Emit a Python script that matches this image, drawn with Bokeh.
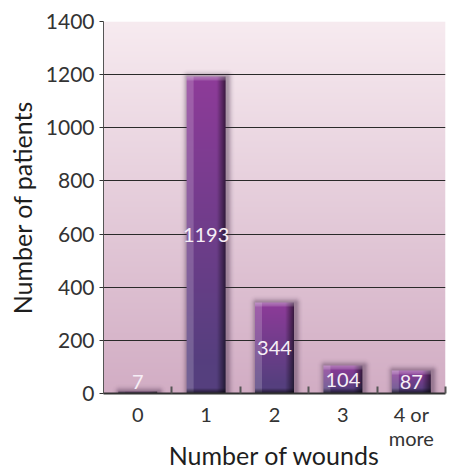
import numpy as np
from bokeh.plotting import figure
from bokeh.models import FixedTicker, Range1d
from bokeh.core.properties import value
from bokeh.embed import file_html
from bokeh.resources import INLINE

# ---- data ----
categories = ["0", "1", "2", "3", "4 or\nmore"]
patients = [7, 1193, 344, 104, 87]
y_ticks = [0, 200, 400, 600, 800, 1000, 1200, 1400]

FONT = "Lato"
W, H = 450, 474
BL, BR, BT, BB = 103, 5, 21, 81
frame_w = W - BL - BR
frame_h = H - BT - BB
YMAX = 1400
n = len(categories)
py = frame_h / YMAX          # px per y unit
px = frame_w / n             # px per x unit

p = figure(width=W, height=H, output_backend="svg", toolbar_location=None,
           x_range=Range1d(-0.5, n - 0.5), y_range=Range1d(0, YMAX),
           min_border_left=BL, min_border_right=BR, min_border_top=BT, min_border_bottom=BB)
p.outline_line_color = None
p.background_fill_color = "#ffffff"
p.border_fill_color = "#ffffff"

# ---- background gradient (frame) ----
rows = int(round(frame_h))
t = np.linspace(0, 1, rows)[:, None]          # 0 bottom .. 1 top
bot = np.array([0xd2, 0xad, 0xc4]); top = np.array([0xf7, 0xeb, 0xf0])
col = bot + (top - bot) * t
bg = np.zeros((rows, 2), dtype=np.uint32)
v = bg.view(dtype=np.uint8).reshape((rows, 2, 4))
v[:, :, 0] = col[:, 0:1].astype(np.uint8)
v[:, :, 1] = col[:, 1:2].astype(np.uint8)
v[:, :, 2] = col[:, 2:3].astype(np.uint8)
v[:, :, 3] = 255
p.image_rgba(image=[bg], x=-0.5, y=0, dw=n, dh=YMAX, level="image")

# ---- bars as shaded images ----
def bar_image(val):
    bw = 39
    pad = 9
    h = max(2, int(round(val * py)))
    Hh, Ww = h + pad, bw + 2 * pad
    img = np.zeros((Hh, Ww, 4), dtype=float)   # top-down
    yy, xx = np.mgrid[0:Hh, 0:Ww]
    x0, x1 = pad, pad + bw - 1
    y0, y1 = pad, Hh - 1
    # soft shadow halo (slightly to the right)
    sx0, sx1, sy0 = x0 + 1, x1 + 2, y0
    dx = np.maximum(np.maximum(sx0 - xx, xx - sx1), 0)
    dy = np.maximum(sy0 - yy, 0)
    d = np.sqrt(dx ** 2 + dy ** 2)
    sa = 0.38 * np.exp(-(d / 4.0) ** 2)
    img[..., 0] = 0x3a; img[..., 1] = 0x22; img[..., 2] = 0x40
    img[..., 3] = sa
    c_top = np.array([0x8e, 0x3b, 0x99], float)
    c_bot = np.array([0x55, 0x3f, 0x7e], float)
    white = np.array([255, 255, 255], float)
    for r in range(y0, y1 + 1):
        tt = (r - y0) / max(1, (y1 - y0))
        base = c_top + (c_bot - c_top) * min(1.0, tt * 1.1)
        for c in range(x0, x1 + 1):
            u = (c - x0) / (bw - 1)
            colr = base.copy()
            if u < 0.17:
                colr = colr + (white - colr) * 0.18
            if u > 0.78:
                k = (u - 0.78) / 0.22
                colr = colr * (1 - 0.55 * k)
            rr = r - y0
            if rr < 4:
                colr = colr + (white - colr) * (0.30 - 0.05 * rr)
            if y1 - r < 5:
                k = (5 - (y1 - r)) / 5
                colr = colr * (1 - 0.6 * k)
            img[r, c, :3] = colr
            img[r, c, 3] = 1.0
    out = np.zeros((Hh, Ww), dtype=np.uint32)
    o = out.view(dtype=np.uint8).reshape((Hh, Ww, 4))
    o[..., :3] = np.clip(img[..., :3], 0, 255).astype(np.uint8)
    o[..., 3] = np.clip(img[..., 3] * 255, 0, 255).astype(np.uint8)
    out = np.flipud(out).copy()
    return out, Ww / px, Hh / py

imgs, xs, dws, dhs = [], [], [], []
for i, val in enumerate(patients):
    im, dw, dh = bar_image(val)
    imgs.append(im); xs.append(i - dw / 2); dws.append(dw); dhs.append(dh)
p.image_rgba(image=imgs, x=xs, y=[0] * n, dw=dws, dh=dhs)

# ---- value labels ----
label_y = [max(v_ / 2, 45) for v_ in patients]
p.text(x=list(range(n)), y=label_y, text=[str(v_) for v_ in patients],
       text_align="center", text_baseline="middle", text_color="#f6eef6",
       text_font=value(FONT), text_font_size="20px")

# ---- grid ----
p.xgrid.grid_line_color = None
p.ygrid.ticker = FixedTicker(ticks=y_ticks[1:])
p.ygrid.grid_line_color = "#2a2a2a"
p.ygrid.grid_line_width = 1.2

# ---- axes ----
p.yaxis.ticker = FixedTicker(ticks=y_ticks)
p.yaxis.axis_label = "Number of patients"
p.yaxis.axis_line_color = "#555555"
p.yaxis.major_tick_line_color = "#333333"
p.yaxis.major_tick_out = 4
p.yaxis.major_tick_in = 0
p.yaxis.minor_tick_line_color = None
p.yaxis.major_label_standoff = 5
p.yaxis.axis_label_standoff = 6

p.xaxis.ticker = FixedTicker(ticks=list(range(n)), minor_ticks=[i + 0.5 for i in range(n)])
p.xaxis.major_label_overrides = {i: categories[i] for i in range(n)}
p.xaxis.axis_label = "Number of wounds"
p.xaxis.axis_line_color = "#333333"
p.xaxis.axis_line_width = 2
p.xaxis.major_tick_line_color = None
p.xaxis.major_tick_in = 0
p.xaxis.major_tick_out = 0
p.xaxis.minor_tick_line_color = "#555555"
p.xaxis.minor_tick_line_width = 2
p.xaxis.minor_tick_in = 7
p.xaxis.minor_tick_out = 0
p.xaxis.major_label_text_line_height = 1.0
p.xaxis.major_label_standoff = 8
p.xaxis.axis_label_standoff = -13

for ax in (p.xaxis[0], p.yaxis[0]):
    ax.major_label_text_font = FONT
    ax.axis_label_text_font = FONT
    ax.axis_label_text_font_style = "normal"
    ax.axis_label_text_color = "#1e1e1e"
    ax.major_label_text_color = "#333333"
    ax.axis_label_text_font_size = "25px"
p.yaxis.major_label_text_font_size = "21px"
p.xaxis.major_label_text_font_size = "20px"

open("out.html", "w").write(file_html(p, INLINE))
